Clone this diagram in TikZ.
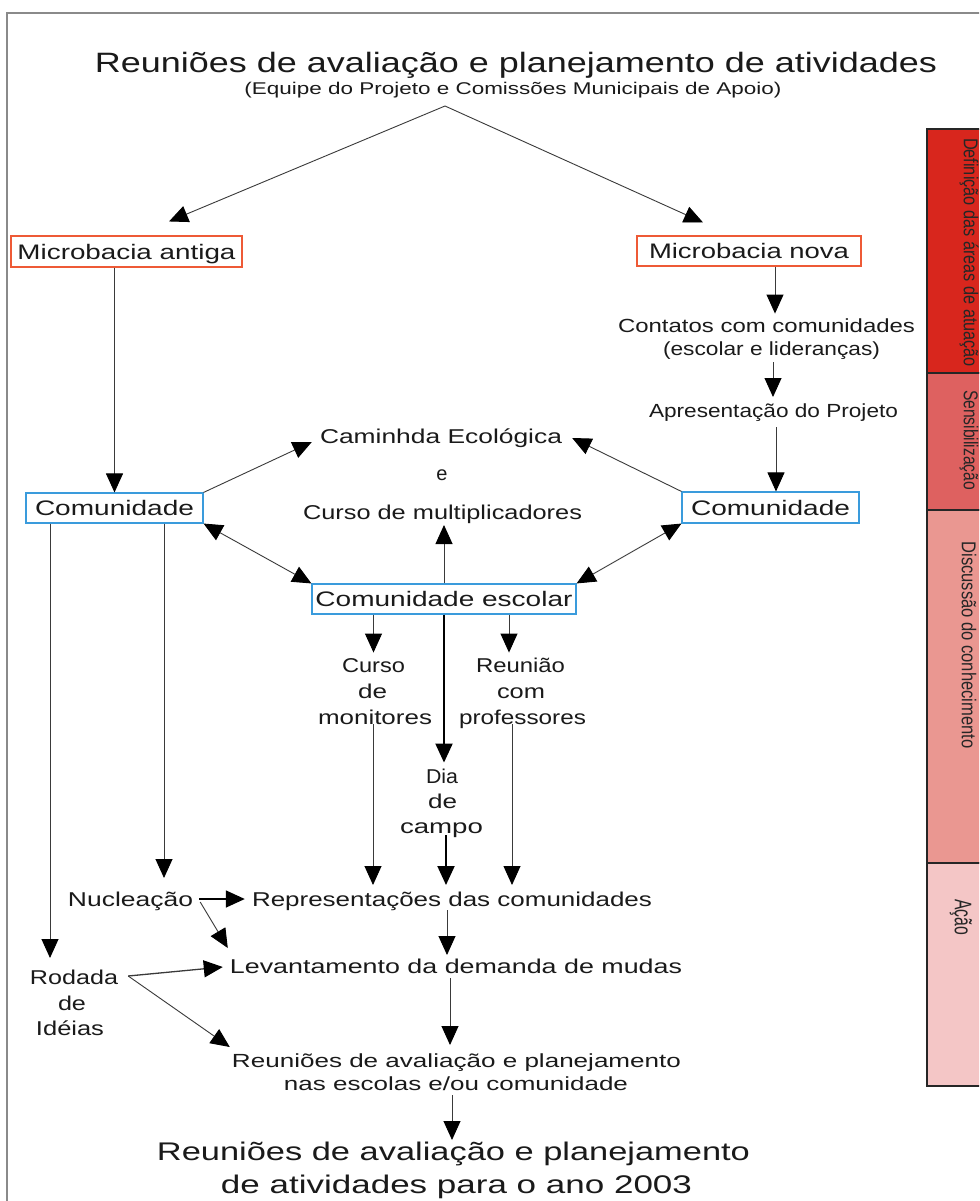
\documentclass[tikz,border=0pt]{standalone}
\usepackage{fontspec}
\setmainfont{Liberation Sans}
\usepackage{graphicx}
\usetikzlibrary{arrows.meta,calc}

% text squeezed or stretched to a fixed width, height kept
\newcommand{\fw}[2]{\resizebox{#1pt}{\height}{#2}}

\definecolor{ink}{HTML}{1A1A1A}
\definecolor{lin}{HTML}{3A3A3A}
\definecolor{boxred}{HTML}{EE5A36}
\definecolor{boxblue}{HTML}{3A9BDC}
\definecolor{frame}{HTML}{8A8A8A}
\definecolor{barA}{HTML}{D8261D}
\definecolor{barB}{HTML}{DE6160}
\definecolor{barC}{HTML}{EA9791}
\definecolor{barD}{HTML}{F4C6C6}
\definecolor{barline}{HTML}{262626}

\tikzset{
  txt/.style={inner sep=0pt, anchor=base, text=ink, font=\fontsize{20}{20}\selectfont},
  txtS/.style={txt, font=\fontsize{19}{19}\selectfont},
  boxtxt/.style={inner sep=0pt, text=ink, text height=15.3pt, text depth=0pt,
                 line width=1.1pt, font=\fontsize{21}{21}\selectfont},
  boxR/.style={boxtxt, draw=boxred},
  boxB/.style={boxtxt, draw=boxblue},
  tip/.tip={Triangle[length=19pt,width=17pt,color=black]},
  arr/.style={draw=lin, line width=0.9pt, -tip},
  darr/.style={draw=lin, line width=0.9pt, tip-tip},
  thk/.style={draw=black, line width=2pt, -tip},
  side/.style={inner sep=0pt, text=barline, rotate=-90, font=\fontsize{20}{20}\selectfont},
  bar/.style={draw=barline, line width=1.5pt}
}

\begin{document}
\begin{tikzpicture}[x=1pt, y=-1pt]
\clip (0,0) rectangle (979,1201);
\fill[white] (0,0) rectangle (979,1201);

% outer frame
\draw[frame, line width=1.3pt] (7,1215) -- (7,13) -- (995,13);

% side bar with the four stages
\path[bar, fill=barA] (927,129) rectangle (990,373);
\path[bar, fill=barB] (927,373) rectangle (990,510);
\path[bar, fill=barC] (927,510) rectangle (990,863);
\path[bar, fill=barD] (927,863) rectangle (990,1086);
\node[side] (s1) at (969,252.5) {\fw{229}{Definição das áreas de atuação}};
\node[side] (s2) at (969,440) {\fw{100}{Sensibilização}};
\node[side] (s3) at (969,645) {\fw{207}{Discussão do conhecimento}};
\node[side, font=\fontsize{24}{24}\selectfont] (s4) at (961,917) {\fw{36}{Ação}};

% heading
\node[txt, font=\fontsize{28}{28}\selectfont] (title) at (516,73)
  {\fw{842}{Reuniões de avaliação e planejamento de atividades}};
\node[txt, font=\fontsize{17}{17}\selectfont] (sub) at (513,95)
  {\fw{537}{(Equipe do Projeto e Comissões Municipais de Apoio)}};
\coordinate (apex) at (445,106);

% boxes
\node[boxR, minimum width=231pt, minimum height=31pt] (mbA) at (126.5,251.5) {\fw{218}{Microbacia antiga}};
\node[boxR, minimum width=224pt, minimum height=30pt] (mbN) at (749,251) {\fw{200}{Microbacia nova}};
\node[boxB, minimum width=177pt, minimum height=30pt] (com1) at (114.5,508) {\fw{159}{Comunidade}};
\node[boxB, minimum width=177pt, minimum height=31pt] (com2) at (770.5,507.5) {\fw{159}{Comunidade}};
\node[boxB, minimum width=264pt, minimum height=30pt] (esc) at (444,599) {\fw{257}{Comunidade escolar}};

% right column
\node[txtS] (contatos) at (766.5,332) {\fw{297}{Contatos com comunidades}};
\node[txtS] (lid) at (771.5,355) {\fw{217}{(escolar e lideranças)}};
\node[txtS] (apres) at (773.5,417) {\fw{249}{Apresentação do Projeto}};

% centre
\node[txt] (cam) at (441,443) {\fw{242}{Caminhda Ecológica}};
\node[txt] (e) at (442,480) {e};
\node[txt] (cmult) at (442.5,519) {\fw{279}{Curso de multiplicadores}};

\node[txt] (cmon1) at (373.5,672) {\fw{63}{Curso}};
\node[txt] (cmon2) at (372.5,698) {\fw{29}{de}};
\node[txt] (cmon3) at (375,724) {\fw{114}{monitores}};
\node[txt] (rp1) at (520.5,672) {\fw{89}{Reunião}};
\node[txt] (rp2) at (521,698) {\fw{48}{com}};
\node[txt] (rp3) at (522.5,724) {\fw{127}{professores}};
\node[txt] (dia1) at (442,783) {\fw{32}{Dia}};
\node[txt] (dia2) at (442.5,808) {\fw{29}{de}};
\node[txt] (dia3) at (441.5,833) {\fw{83}{campo}};

% lower part
\node[txt] (nuc) at (130.5,906) {\fw{125}{Nucleação}};
\node[txt] (rep) at (452,906) {\fw{400}{Representações das comunidades}};
\node[txt] (lev) at (456,973) {\fw{452}{Levantamento da demanda de mudas}};
\node[txt] (rod1) at (74,984) {\fw{88}{Rodada}};
\node[txt] (rod2) at (72,1010) {\fw{28}{de}};
\node[txt] (rod3) at (70,1035) {\fw{68}{Idéias}};
\node[txtS] (rn1) at (456.5,1067) {\fw{449}{Reuniões de avaliação e planejamento}};
\node[txtS] (rn2) at (456,1090) {\fw{344}{nas escolas e/ou comunidade}};
\node[txt, font=\fontsize{25.5}{25.5}\selectfont] (big1) at (453.5,1160) {\fw{593}{Reuniões de avaliação e planejamento}};
\node[txt, font=\fontsize{25.5}{25.5}\selectfont] (big2) at (456.5,1193) {\fw{471}{de atividades para o ano 2003}};

% connectors: heading to the two micro-basins
\draw[arr] (apex) -- ($(mbA.north)+(42.5,-14)$);
\draw[arr] (apex) -- ($(mbN.north)+(-46,-13)$);

% old micro-basin
\draw[arr] (mbA.south -| com1.north) -- (com1.north);

% new micro-basin chain
\draw[arr] ($(mbN.south)+(26,0)$) -- ($(mbN.south)+(26,47)$);
\draw[arr] ($(lid.base)+(1.5,7)$) -- ($(apres.base)+(-0.5,-20)$);
\path ($(apres.base)+(2.5,10)$) coordinate (ap0);
\draw[arr] (ap0) -- (ap0 |- com2.north);

% communities to the walk / course
\draw[arr] (com1.north east) -- ($(cam.base west)+(-8,-1)$);
\draw[arr] (com2.north west) -- ($(cam.base east)+(10,-5)$);
\draw[darr] (com1.south east) -- (esc.north west);
\draw[darr] (com2.south west) -- (esc.north east);
\draw[arr] (esc.north) -- ($(cmult.base)+(1.5,6)$);

% school community branches
\draw[arr] (esc.south -| cmon1.north) -- ++(0,38);
\draw[arr] ($(esc.south)+(65,0)$) -- ++(0,38);
\draw[thk] (esc.south) -- ++(0,148);
\draw[arr] ($(cmon3.base)+(-2,0)$) -- ++(0,161);
\draw[arr] ($(rp3.base)+(-10.5,0)$) -- ++(0,161);
\draw[thk] ($(dia3.base)+(4.5,2)$) -- ++(0,50);

% left branches
\path ($(com1.south)+(49.5,0)$) coordinate (n0);
\draw[arr] (n0) -- ($(n0 |- nuc.base)+(0,-28)$);
\path ($(com1.south)+(-64.5,0)$) coordinate (r0);
\draw[arr] (r0) -- ($(r0 |- rod1.base)+(0,-26)$);

\draw[thk, line width=1.6pt] ($(nuc.base east)+(6,-7)$) -- ($(rep.base west)+(-7,-7)$);
\draw[arr] ($(nuc.base east)+(7,-4)$) -- ($(lev.base west)+(-2,-25)$);
\draw[arr, line width=1.3pt] ($(rod1.base east)+(10,-8)$) -- ($(lev.base west)+(-7,-6)$);
\draw[arr] ($(rod1.base east)+(10,-8)$) -- ($(rn1.base west)+(-2,-20)$);

% main column downwards
\draw[arr] ($(rep.base)+(-5,4)$) -- ($(lev.base)+(-9,-18)$);
\draw[arr] ($(lev.base)+(-6,5)$) -- ($(rn1.base)+(-6.5,-22)$);
\draw[arr] ($(rn2.base)+(-4,5)$) -- ($(big1.base)+(-1.5,-20)$);
\end{tikzpicture}
\end{document}
